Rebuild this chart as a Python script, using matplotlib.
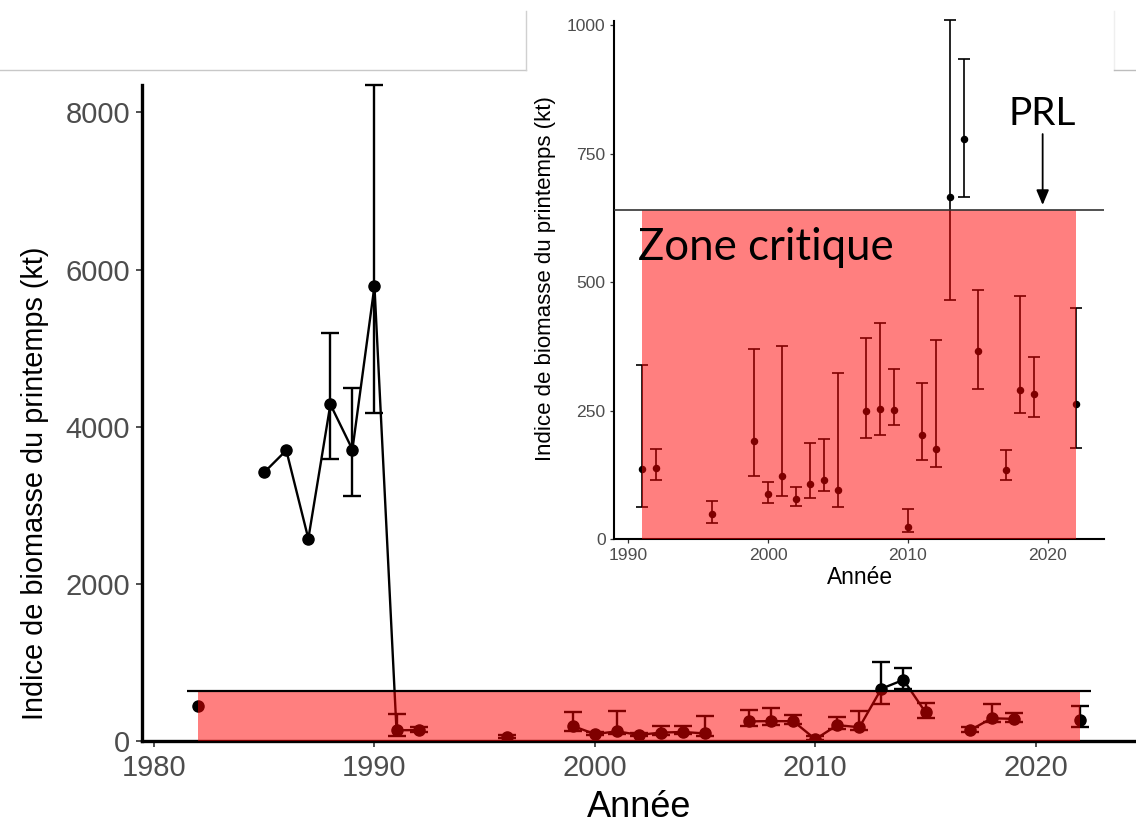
import numpy as np
import pandas as pd
import matplotlib
matplotlib.use("Agg")
import matplotlib.pyplot as plt
from matplotlib.lines import Line2D
from matplotlib.patches import Rectangle

# ---------------- data ----------------
years = [1982, 1985, 1986, 1987, 1988, 1989, 1990, 1991, 1992, 1996, 1999, 2000,
         2001, 2002, 2003, 2004, 2005, 2007, 2008, 2009, 2010, 2011, 2012, 2013,
         2014, 2015, 2017, 2018, 2019, 2022]
biomass = [440, 3420, 3700, 2575, 4285, 3710, 5790, 137, 139, 48, 191, 88,
           123, 78, 107, 115, 96, 250, 253, 252, 23, 202, 175, 666,
           778, 366, 134, 289, 282, 262]
lower = [np.nan, np.nan, np.nan, np.nan, 3585, 3120, 4175, 63, 115, 32, 123, 71,
         83, 65, 79, 93, 63, 196, 203, 221, 14, 154, 141, 466,
         665, 292, 114, 245, 238, 178]
upper = [np.nan, np.nan, np.nan, np.nan, 5190, 4490, 8350, 338, 176, 74, 370, 111,
         376, 102, 186, 195, 323, 392, 421, 331, 58, 303, 387, 1010,
         934, 484, 173, 472, 355, 449]
PRL = 640
zone_main = (1982, 2022)
zone_inset = (1991, 2022)
main_xticks = [1980, 1990, 2000, 2010, 2020]
main_yticks = [0, 2000, 4000, 6000, 8000]
inset_xticks = [1990, 2000, 2010, 2020]
inset_yticks = [0, 250, 500, 750, 1000]
inset_start = 1991

yrs = np.array(years, float)
val = np.array(biomass, float)
lo = np.array(lower, float)
hi = np.array(upper, float)
has_err = ~np.isnan(lo)

series = pd.Series(val, index=years).reindex(range(min(years), max(years) + 1))

W, H = 1136, 834
fig = plt.figure(figsize=(W / 100, H / 100), dpi=100)
fig.patch.set_facecolor("white")

def fx(x):
    return x / W

def fy(y):
    return 1 - y / H

def unclip(container):
    for art in container.get_children():
        art.set_clip_on(False)

ZONE_RED = (1.0, 0.0, 0.0, 0.5)
TICK_GRAY = "#4D4D4D"
plt.rcParams["font.family"] = ["Liberation Sans", "DejaVu Sans"]

# ---------------- main axes ----------------
ax = fig.add_axes([fx(141.7), fy(741), fx(W - 141.7), (741 - 85) / H])
ax.set_xlim(1979.44, 2024.55)
ax.set_ylim(0, 8350)

ax.plot(series.index, series.values, color="black", lw=1.7, zorder=2)
eb = ax.errorbar(yrs[has_err], val[has_err],
                 yerr=[val[has_err] - lo[has_err], hi[has_err] - val[has_err]],
                 fmt="none", ecolor="black", elinewidth=1.7, capsize=6.8, capthick=1.7,
                 zorder=2)
unclip(eb)
ax.plot(yrs, val, "o", color="black", ms=8, zorder=2)

ax.fill_between(list(zone_main), 0, PRL, color=ZONE_RED, lw=0, zorder=3)
ax.hlines(PRL, zone_main[0] - 0.5, zone_main[1] + 0.5, color="black", lw=1.6, zorder=4)

for s in ["top", "right"]:
    ax.spines[s].set_visible(False)
for s in ["left", "bottom"]:
    ax.spines[s].set_linewidth(2.4)
    ax.spines[s].set_color("black")
ax.set_xticks(main_xticks)
ax.set_yticks(main_yticks)
ax.tick_params(axis="both", labelsize=21, labelcolor=TICK_GRAY, color="#333333",
               width=1.2, length=4.5)
ax.tick_params(axis="x", pad=5)
ax.tick_params(axis="y", pad=4)

fig.text(fx(35), fy(483), "Indice de biomasse du printemps (kt)", rotation=90,
         ha="center", va="center", fontsize=20.8, color="black")
fig.text(fx(638.7), fy(817), "Année", ha="center", va="baseline",
         fontsize=26, color="black")

# ---------------- header lines & inset background ----------------
fig.patches.append(Rectangle((fx(526), fy(600)), fx(1114 - 526), (600 - 11) / H,
                             transform=fig.transFigure, facecolor="white",
                             edgecolor="none", zorder=5))
for (x0, y0, x1, y1, c) in [(0, 70, 526, 70, "#c8c8c8"),
                            (525.7, 11, 525.7, 70, "#d0d0d0"),
                            (1114, 11, 1114, 70, "#efefef"),
                            (1114, 70, 1136, 70, "#bdbdbd")]:
    fig.add_artist(Line2D([fx(x0), fx(x1)], [fy(y0), fy(y1)], color=c, lw=1.0,
                          transform=fig.transFigure, zorder=6))

# ---------------- inset axes ----------------
ax2 = fig.add_axes([fx(614.3), fy(539), fx(1104.3 - 614.3), (539 - 20.5) / H])
ax2.set_zorder(10)
ax2.set_facecolor("white")
ax2.set_xlim(1989.0, 2024.05)
ax2.set_ylim(0, 1009)

m = yrs >= inset_start
eb2 = ax2.errorbar(yrs[m], val[m], yerr=[val[m] - lo[m], hi[m] - val[m]],
                   fmt="none", ecolor="black", elinewidth=1.2, capsize=4.5,
                   capthick=1.2, zorder=2)
unclip(eb2)
ax2.plot(yrs[m], val[m], "o", color="black", ms=4.4, zorder=2)
ax2.fill_between(list(zone_inset), 0, PRL, color=ZONE_RED, lw=0, zorder=3)
ax2.axhline(PRL, color="#333333", lw=1.2, zorder=4)

for s in ["top", "right"]:
    ax2.spines[s].set_visible(False)
for s in ["left", "bottom"]:
    ax2.spines[s].set_linewidth(1.5)
    ax2.spines[s].set_color("black")
ax2.set_xticks(inset_xticks)
ax2.set_yticks(inset_yticks)
ax2.tick_params(axis="both", labelsize=12.6, labelcolor=TICK_GRAY, color="#333333",
                width=0.9, length=3.2, pad=3)

fig.text(fx(545), fy(279), "Indice de biomasse du printemps (kt)", rotation=90,
         ha="center", va="center", fontsize=16, color="black", zorder=12)
fig.text(fx(860), fy(584), "Année", ha="center", va="baseline",
         fontsize=16.4, color="black", zorder=12)

# annotations
ax2.text(1990.7, 542, "Zone critique", family=["Lato", "DejaVu Sans"], fontsize=31.5,
         ha="left", va="baseline", color="black", zorder=6)
ax2.text(2019.6, 806, "PRL", family=["Lato", "DejaVu Sans"], fontsize=28,
         ha="center", va="baseline", color="black", zorder=6)
ax2.annotate("", xy=(2019.64, 650), xytext=(2019.64, 788),
             arrowprops=dict(arrowstyle="-|>,head_length=0.9,head_width=0.38",
                             color="black", lw=1.3, shrinkA=0, shrinkB=0),
             zorder=6)

fig.savefig("out.png", dpi=100, facecolor="white")
